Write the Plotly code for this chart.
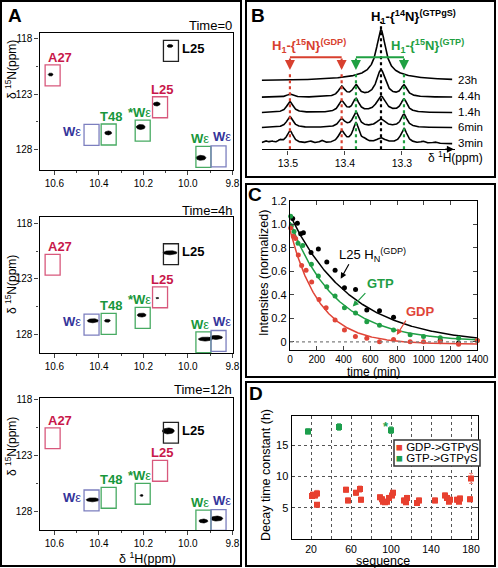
import numpy as np
import plotly.graph_objects as go

W, H = 498, 568
FONT = "Liberation Sans, Arial, Helvetica, sans-serif"

# ---------------- Panel A : HSQC windows ----------------
A_time_labels = ["Time=0", "Time=4h", "Time=12h"]
A_box_text = ["A27", "L25", "L25", "W", "T48", "*W", "W", "W"]
A_box_group = ["red", "black", "red", "blue", "green", "green", "green", "blue"]
A_box_1H = [10.608, 10.076, 10.125, 10.433, 10.356, 10.203, 9.930, 9.862]
A_box_15N_t0 = [121.32, 119.13, 124.18, 126.65, 126.62, 126.28, 128.63, 128.58]
A_box_15N_t4h = [121.73, 120.78, 124.66, 127.12, 127.05, 126.51, 128.71, 128.59]
A_box_15N_t12h = [121.45, 120.95, 124.38, 127.05, 126.81, 126.45, 128.86, 128.81]

A_peak_1H_t0 = [10.617, 10.080, 10.140, 10.358, 10.212, 9.941]
A_peak_15N_t0 = [121.25, 118.69, 123.89, 126.48, 125.95, 128.71]
A_peak_w1H_t0 = [0.022, 0.027, 0.031, 0.031, 0.040, 0.045]
A_peak_w15N_t0 = [0.27, 0.27, 0.36, 0.36, 0.45, 0.45]

A_peak_1H_t4h = [10.080, 10.137, 10.427, 10.362, 10.208, 9.921, 9.873]
A_peak_15N_t4h = [120.65, 124.73, 126.77, 126.77, 126.26, 128.42, 128.27]
A_peak_w1H_t4h = [0.063, 0.014, 0.050, 0.027, 0.040, 0.063, 0.058]
A_peak_w15N_t4h = [0.36, 0.13, 0.36, 0.27, 0.36, 0.36, 0.36]

A_peak_1H_t12h = [10.088, 10.428, 10.208, 9.930, 9.870]
A_peak_15N_t12h = [120.79, 126.99, 126.60, 128.90, 128.68]
A_peak_w1H_t12h = [0.054, 0.058, 0.014, 0.040, 0.054]
A_peak_w15N_t12h = [0.54, 0.36, 0.18, 0.36, 0.45]

# ---------------- Panel B : 1D spectra ----------------
B_labels = ["23h", "4.4h", "1.4h", "6min", "3min"]
B_offsets = [68.5, 52.0, 36.6, 21.6, 5.5]
B_peak_ppm = [13.4965, 13.4058, 13.3807, 13.3368, 13.2965]
B_peak_group = ["red", "red", "green", "black", "green"]
B_amp_23h = [0, 0, 0, 45, 0]
B_amp_4h4 = [3, 10, 11, 27, 11]
B_amp_1h4 = [11, 11, 13, 16, 13]
B_amp_6min = [11, 8, 15, 8, 13]
B_amp_3min = [13, 12, 20, 5, 15]
B_broad_23h = 6
B_minor_3min_ppm = [13.540, 13.529, 13.514, 13.461, 13.441, 13.365, 13.263, 13.242]
B_minor_3min_amp = [2.5, 2.0, 2.5, 2.0, 2.5, 2.0, 2.0, 1.5]
B_ticks = [13.5, 13.4, 13.3]

# ---------------- Panel C : intensity decay ----------------
C_black_t = [20, 55, 80, 100, 157, 212, 275, 337, 407, 490, 574, 669, 774, 1123, 1260]
C_black_y = [1.05, 1.01, 0.92, 0.93, 0.76, 0.79, 0.68, 0.61, 0.46, 0.445, 0.27, 0.265, 0.21, 0.01, -0.01]
C_green_t = [5, 10, 30, 60, 95, 160, 212, 275, 337, 407, 490, 574, 669, 774, 898, 998, 1123, 1260, 1400]
C_green_y = [1.07, 0.99, 0.94, 0.84, 0.82, 0.66, 0.56, 0.47, 0.39, 0.29, 0.245, 0.17, 0.14, 0.10, 0.06, 0.045, 0.035, 0.03, 0.01]
C_red_t = [5, 25, 42, 62, 87, 120, 162, 217, 270, 337, 407, 489, 574, 669, 774, 898, 998, 1123, 1260, 1400]
C_red_y = [0.97, 0.90, 0.88, 0.74, 0.65, 0.61, 0.51, 0.36, 0.29, 0.185, 0.10, 0.045, 0.03, 0.0, 0.02, 0.0, 0.0, 0.0, -0.02, 0.01]
# exponential fits: amplitude, time constant (min), offset
C_fit_black = [1.10, 460, -0.02]
C_fit_green = [1.02, 340, 0.0]
C_fit_red = [0.97, 220, -0.02]
C_yticks = [0, 0.2, 0.4, 0.6, 0.8, 1.0, 1.2]
C_yticktext = ["0", "0.2", "0.4", "0.6", "0.8", "1.0", "1.2"]

# ---------------- Panel D : decay time constants ----------------
D_red_seq = [21, 22, 24, 26, 26, 55, 57, 65, 69, 70, 89, 91, 92, 94, 96, 98, 101, 102,
             113, 115, 116, 126, 128, 144, 154, 156, 158, 159, 166, 168, 169, 179, 180]
D_red_tau = [6.9, 7.1, 7.0, 7.3, 5.5, 7.9, 6.2, 7.4, 8.0, 6.3, 6.7, 6.4, 6.0, 5.9, 6.0, 6.6, 7.0, 7.4,
             6.2, 5.9, 6.6, 5.8, 6.2, 6.2, 7.0, 6.6, 6.0, 6.3, 6.3, 6.0, 6.5, 6.4, 9.7]
D_red_err = [0.4, 0.4, 0.4, 0.5, 0.3, 0.4, 0.4, 0.4, 0.5, 0.4, 0.4, 0.4, 0.3, 0.3, 0.3, 0.4, 0.4, 0.4,
             0.4, 0.3, 0.4, 0.3, 0.4, 0.4, 0.4, 0.4, 0.3, 0.4, 0.4, 0.3, 0.4, 0.4, 0.8]
D_green_seq = [17, 48, 100]
D_green_tau = [17.2, 17.9, 17.4]
D_green_err = [0.4, 0.5, 0.5]
D_star_seq = 95
D_star_tau = 18.0
D_xticks = [20, 60, 100, 140, 180]
D_yticks = [5, 10, 15]
D_legend = ["GDP-&gt;GTPγS", "GTP-&gt;GTPγS"]

# ---------------- helpers ----------------
def xd(px):
    return px / W


def yd(py):
    return 1 - py / H


def ptxt(px, py, text, size, color="black", xanchor="center", yanchor="middle", angle=0):
    return dict(xref="paper", yref="paper", x=xd(px), y=yd(py), text=text, showarrow=False,
                xanchor=xanchor, yanchor=yanchor, textangle=angle,
                font=dict(family=FONT, size=size, color=color))


RED_T, RED_B = "#c8174a", "#d8587c"
GRN_T, GRN_B = "#17973b", "#47aa62"
BLU_T, BLU_B = "#34349a", "#7c7fbf"
A_text_color = {"red": RED_T, "black": "black", "green": GRN_T, "blue": BLU_T}
A_box_color = {"red": RED_B, "black": "#222222", "green": GRN_B, "blue": BLU_B}
A_label_side = ["above", "right", "above", "left", "above", "above", "above", "above"]
A_label_dx = [7, 0, 2, 0, 2, -3, -3, 3]
A_label_dy = [0, 0, 0, 0, 0, 0, 0, 2]

fig = go.Figure()
shapes, annos = [], []
lay = {}

tickfont = dict(family=FONT, size=10, color="black")

A_axes = [("x", "y", "", ""), ("x2", "y2", "2", "2"), ("x3", "y3", "3", "3")]
A_ydoms = [(33, 170), (217.3, 353.3), (398.3, 530)]
A_yranges = [[129.8, 117.53], [129.7, 117.46], [129.71, 117.85]]
A_box_15N = [A_box_15N_t0, A_box_15N_t4h, A_box_15N_t12h]
A_peaks = [
    (A_peak_1H_t0, A_peak_15N_t0, A_peak_w1H_t0, A_peak_w15N_t0),
    (A_peak_1H_t4h, A_peak_15N_t4h, A_peak_w1H_t4h, A_peak_w15N_t4h),
    (A_peak_1H_t12h, A_peak_15N_t12h, A_peak_w1H_t12h, A_peak_w15N_t12h),
]
A_ytitle_y = [70, 285, 447]
A_time_y = [25, 210, 389]
BOX_W, BOX_H = 0.0675, 1.88
theta = np.linspace(0, 2 * np.pi, 40)

for i in range(3):
    xr, yr, xs, ys = A_axes[i]
    lay["xaxis" + xs] = dict(
        domain=[xd(39.5), xd(233)], range=[10.667, 9.797], anchor=yr,
        tick0=9.8, dtick=0.2, tickformat=".1f", ticks="outside", ticklen=4,
        minor=dict(tick0=9.8, dtick=0.1, ticks="outside", ticklen=2),
        showline=True, mirror=True, linecolor="black", linewidth=1.3,
        showgrid=False, zeroline=False, tickfont=tickfont, automargin=False)
    lay["yaxis" + ys] = dict(
        domain=[yd(A_ydoms[i][1]), yd(A_ydoms[i][0])], range=A_yranges[i], anchor=xr,
        tick0=118, dtick=5, ticks="outside", ticklen=4,
        minor=dict(tick0=118, dtick=2.5, ticks="outside", ticklen=2),
        showline=True, mirror=True, linecolor="black", linewidth=1.3,
        showgrid=False, zeroline=False, tickfont=tickfont, automargin=False)
    ph, pn, pwh, pwn = A_peaks[i]
    ex, ey = [], []
    for h, n, wh, wn in zip(ph, pn, pwh, pwn):
        ex += list(h + wh / 2 * np.cos(theta)) + [None]
        ey += list(n + wn / 2 * np.sin(theta)) + [None]
    fig.add_trace(go.Scatter(x=ex, y=ey, mode="lines", fill="toself", fillcolor="black",
                             line=dict(color="black", width=0.6), xaxis=xr, yaxis=yr,
                             hoverinfo="skip", showlegend=False))
    for j, lab in enumerate(A_box_text):
        h = A_box_1H[j]
        n = A_box_15N[i][j]
        g = A_box_group[j]
        top = n - BOX_H / 2
        shapes.append(dict(type="rect", xref=xr, yref=yr, x0=h + BOX_W / 2, x1=h - BOX_W / 2,
                           y0=top, y1=n + BOX_H / 2, line=dict(color=A_box_color[g], width=1.3)))
        if lab.endswith("W"):
            txt = "<b>" + lab + "</b>ε"
        else:
            txt = "<b>" + lab + "</b>"
        side = A_label_side[j]
        a = dict(xref=xr, yref=yr, text=txt, showarrow=False,
                 font=dict(family=FONT, size=13, color=A_text_color[g]))
        if side == "above":
            a.update(x=h, y=top, xanchor="center", yanchor="bottom",
                     xshift=A_label_dx[j], yshift=-2 + A_label_dy[j])
        elif side == "right":
            a.update(x=h - BOX_W / 2, y=top, xanchor="left", yanchor="middle", xshift=2, yshift=-8)
        else:
            a.update(x=h + BOX_W / 2, y=top, xanchor="right", yanchor="middle", xshift=-1, yshift=-7)
        annos.append(a)
    annos.append(ptxt(234, A_time_y[i], A_time_labels[i], 13, xanchor="right"))
    annos.append(ptxt(11, A_ytitle_y[i], "δ <sup>15</sup>N(ppm)", 12, angle=-90))

annos.append(ptxt(147, 557.5, "δ <sup>1</sup>H(ppm)", 12.5))

# ---------------- Panel B ----------------
lay["xaxis4"] = dict(domain=[xd(261.7), xd(455)], range=[13.546, 13.207], anchor="y4",
                     tickvals=B_ticks, tickformat=".1f", ticks="outside", ticklen=4,
                     showline=True, mirror=False, linecolor="black", linewidth=1.4,
                     showgrid=False, zeroline=False, automargin=False,
                     tickfont=dict(family=FONT, size=10.5, color="black"))
lay["yaxis4"] = dict(domain=[yd(149.3), yd(2)], range=[0, 147.3], anchor="x4", visible=False,
                     automargin=False)

B_amps = [B_amp_23h, B_amp_4h4, B_amp_1h4, B_amp_6min, B_amp_3min]
B_hwhm = [0.0065, 0.0065, 0.0065, 0.0095, 0.0065]
xs_B = np.linspace(13.546, 13.212, 600)
for k in range(5):
    yv = np.full_like(xs_B, B_offsets[k])
    for p, a, w in zip(B_peak_ppm, B_amps[k], B_hwhm):
        yv = yv + a / (1 + ((xs_B - p) / w) ** 2)
    if k == 0:
        yv = yv + B_broad_23h / (1 + ((xs_B - B_peak_ppm[3]) / 0.06) ** 2)
    if k == 4:
        for p, a in zip(B_minor_3min_ppm, B_minor_3min_amp):
            yv = yv + a / (1 + ((xs_B - p) / 0.004) ** 2)
    fig.add_trace(go.Scatter(x=xs_B, y=yv, mode="lines", line=dict(color="black", width=1.6),
                             xaxis="x4", yaxis="y4", hoverinfo="skip", showlegend=False))
    annos.append(ptxt(456, 149.3 - B_offsets[k] - 1, B_labels[k], 11.5, xanchor="left"))

B_col = {"red": "#d8402f", "green": "#1fa042", "black": "black"}
for p, g in zip(B_peak_ppm, B_peak_group):
    top = 127.6 if g == "black" else 77.6
    fig.add_trace(go.Scatter(x=[p, p], y=[0, top], mode="lines",
                             line=dict(color=B_col[g], width=2.2, dash="dot"),
                             xaxis="x4", yaxis="y4", hoverinfo="skip", showlegend=False))
    if g != "black":
        annos.append(dict(xref="x4", yref="y4", x=p, y=79.3, ax=0, ay=-13, text="",
                          showarrow=True, arrowhead=2, arrowsize=1, arrowwidth=2,
                          arrowcolor=B_col[g]))
shapes.append(dict(type="line", xref="x4", yref="y4", x0=B_peak_ppm[0], x1=B_peak_ppm[1],
                   y0=92, y1=92, line=dict(color=B_col["red"], width=2)))
shapes.append(dict(type="line", xref="x4", yref="y4", x0=B_peak_ppm[2], x1=B_peak_ppm[4],
                   y0=92, y1=92, line=dict(color=B_col["green"], width=2)))
annos.append(dict(xref="x4", yref="y4", x=13.209, y=0, ax=-10, ay=0, text="", showarrow=True,
                  arrowhead=2, arrowsize=1, arrowwidth=1.4, arrowcolor="black"))
annos.append(ptxt(413, 17, "<b>H<sub>1</sub>-{<sup>14</sup>N}<sup>(GTPgS)</sup></b>", 13))
annos.append(ptxt(309, 46, "<b>H<sub>1</sub>-{<sup>15</sup>N}<sup>(GDP)</sup></b>", 13, B_col["red"]))
annos.append(ptxt(427, 46, "<b>H<sub>1</sub>-{<sup>15</sup>N}<sup>(GTP)</sup></b>", 13, B_col["green"]))
annos.append(ptxt(455, 157, "δ <sup>1</sup>H(ppm)", 12))

# ---------------- Panel C ----------------
lay["xaxis5"] = dict(domain=[xd(290), xd(477.3)], range=[0, 1400], anchor="y5", dtick=200,
                     ticks="inside", ticklen=4, showline=True, mirror="ticks", linecolor="black",
                     linewidth=1.3, showgrid=False, zeroline=False, automargin=False,
                     tickfont=dict(family=FONT, size=10, color="black"))
lay["yaxis5"] = dict(domain=[yd(350), yd(201)], range=[-0.07, 1.2], anchor="x5",
                     tickvals=C_yticks, ticktext=C_yticktext,
                     ticks="inside", ticklen=4, showline=True, mirror="ticks", linecolor="black",
                     linewidth=1.3, showgrid=False, zeroline=False, automargin=False,
                     tickfont=dict(family=FONT, size=11, color="black"))
shapes.append(dict(type="line", xref="x5", yref="y5", x0=0, x1=1400, y0=0, y1=0,
                   line=dict(color="#808080", width=1.3, dash="dot")))
C_red, C_green = "#e04538", "#1f9e45"
tt = np.linspace(0, 1400, 300)
for (t, y, fit, col) in [(C_black_t, C_black_y, C_fit_black, "black"),
                         (C_green_t, C_green_y, C_fit_green, C_green),
                         (C_red_t, C_red_y, C_fit_red, C_red)]:
    fig.add_trace(go.Scatter(x=tt, y=fit[0] * np.exp(-tt / fit[1]) + fit[2], mode="lines",
                             line=dict(color=col, width=1.5), xaxis="x5", yaxis="y5",
                             hoverinfo="skip", showlegend=False))
    fig.add_trace(go.Scatter(x=t, y=y, mode="markers", marker=dict(color=col, size=5),
                             xaxis="x5", yaxis="y5", hoverinfo="skip", showlegend=False,
                             cliponaxis=False))
annos.append(dict(xref="x5", yref="y5", x=379, y=0.537, ax=9, ay=-16, text="", showarrow=True,
                  arrowhead=2, arrowsize=1, arrowwidth=1.2, arrowcolor="black"))
annos.append(dict(xref="x5", yref="y5", x=469, y=0.30, ax=14, ay=-15, text="", showarrow=True,
                  arrowhead=2, arrowsize=1, arrowwidth=1.2, arrowcolor=C_green))
annos.append(dict(xref="x5", yref="y5", x=798, y=0.057, ax=10, ay=-16, text="", showarrow=True,
                  arrowhead=2, arrowsize=1, arrowwidth=1.2, arrowcolor=C_red))
annos.append(dict(xref="x5", yref="y5", x=616, y=0.742, showarrow=False,
                  text="L25 H<sub>N</sub><sup>(GDP)</sup>",
                  font=dict(family=FONT, size=13, color="black")))
annos.append(dict(xref="x5", yref="y5", x=673, y=0.494, showarrow=False, text="<b>GTP</b>",
                  font=dict(family=FONT, size=13, color=C_green)))
annos.append(dict(xref="x5", yref="y5", x=972, y=0.257, showarrow=False, text="<b>GDP</b>",
                  font=dict(family=FONT, size=13, color=C_red)))
annos.append(ptxt(264, 273, "Intensites (normalized)", 12.5, angle=-90))
annos.append(ptxt(373, 371.5, "time (min)", 12))

# ---------------- Panel D ----------------
lay["xaxis6"] = dict(domain=[xd(291.7), xd(478.3)], range=[0.7, 187.3], anchor="y6",
                     tickvals=D_xticks, ticks="inside", ticklen=3, showline=True, mirror="ticks",
                     linecolor="black", linewidth=1.3, showgrid=True, gridcolor="#555555",
                     griddash="dot", gridwidth=1, zeroline=False, automargin=False,
                     minor=dict(tick0=0, dtick=20, showgrid=True, gridcolor="#555555",
                                griddash="dot", gridwidth=1),
                     tickfont=dict(family=FONT, size=10.5, color="black"))
lay["yaxis6"] = dict(domain=[yd(539.3), yd(415.7)], range=[0, 19.7], anchor="x6",
                     tickvals=D_yticks, ticks="inside", ticklen=3, showline=True, mirror="ticks",
                     linecolor="black", linewidth=1.3, showgrid=True, gridcolor="#555555",
                     griddash="dot", gridwidth=1, zeroline=False, automargin=False,
                     tickfont=dict(family=FONT, size=11, color="black"))
D_red, D_green = "#e8402f", "#1c9e4c"
fig.add_trace(go.Scatter(x=D_red_seq, y=D_red_tau, mode="markers",
                         marker=dict(symbol="square", size=6, color=D_red),
                         error_y=dict(type="data", array=D_red_err, color="#f08a80", thickness=1, width=2),
                         xaxis="x6", yaxis="y6", hoverinfo="skip", showlegend=False))
fig.add_trace(go.Scatter(x=D_green_seq, y=D_green_tau, mode="markers",
                         marker=dict(symbol="square", size=6, color=D_green),
                         error_y=dict(type="data", array=D_green_err, color=D_green, thickness=1, width=2),
                         xaxis="x6", yaxis="y6", hoverinfo="skip", showlegend=False))
annos.append(dict(xref="x6", yref="y6", x=D_star_seq, y=D_star_tau, showarrow=False, text="<b>*</b>",
                  font=dict(family=FONT, size=13, color=D_green)))
shapes.append(dict(type="rect", xref="paper", yref="paper", x0=xd(394), x1=xd(480), y0=yd(466),
                   y1=yd(440), line=dict(color="#333333", width=1.5), fillcolor="white", layer="above"))
for k, (lab, col) in enumerate(zip(D_legend, [D_red, D_green])):
    annos.append(ptxt(394, 446.5 + 11.5 * k, '<span style="color:%s">■</span> %s' % (col, lab),
                      11.5, xanchor="left"))
annos.append(ptxt(266, 475, "Decay time constant (h)", 12.5, angle=-90))
annos.append(ptxt(383, 560.5, "sequence", 12.5))

# ---------------- frames & panel letters ----------------
for (x0, y0, x1, y1) in [(1, 1, 241, 566), (246, 1, 495, 177), (246, 184, 495, 377), (246, 382, 495, 566)]:
    shapes.append(dict(type="rect", xref="paper", yref="paper", x0=xd(x0), x1=xd(x1), y0=yd(y1),
                       y1=yd(y0), line=dict(color="black", width=2)))
for (lab, px, py) in [("A", 15, 15), ("B", 258, 16), ("C", 255, 195), ("D", 256, 393)]:
    annos.append(ptxt(px, py, "<b>%s</b>" % lab, 19))

fig.update_layout(template="none", width=W, height=H, autosize=False,
                  margin=dict(l=0, r=0, t=0, b=0, pad=0),
                  paper_bgcolor="white", plot_bgcolor="white", showlegend=False,
                  font=dict(family=FONT, color="black"), shapes=shapes, annotations=annos, **lay)
fig.write_html("out.html", config={"displayModeBar": False},
               post_script="document.body.style.margin='0px';document.body.style.padding='0px';"
                           "document.documentElement.style.overflow='hidden';")
